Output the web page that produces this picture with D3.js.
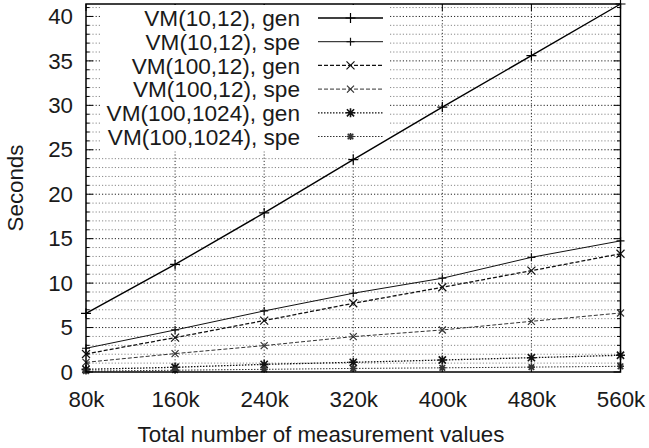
<!DOCTYPE html>
<html><head><meta charset="utf-8">
<script src="https://cdn.jsdelivr.net/npm/d3@7"></script>
<style>
body{margin:0;background:#fff;}
text{font-family:"Liberation Sans",Arial,sans-serif;fill:#1a1a1a;}
</style></head>
<body><svg id="c" width="649" height="448"></svg>
<script>
const xValues = [80, 160, 240, 320, 400, 480, 560];
const xTickLabels = ["80k","160k","240k","320k","400k","480k","560k"];
const yMajorTicks = [0,5,10,15,20,25,30,35,40];
const seriesNames = ["VM(10,12), gen","VM(10,12), spe","VM(100,12), gen","VM(100,12), spe","VM(100,1024), gen","VM(100,1024), spe"];
const vm10_12_gen   = [6.6, 12.1, 17.9, 23.9, 29.8, 35.6, 41.4];
const vm10_12_spe   = [2.67, 4.73, 6.87, 8.86, 10.55, 12.9, 14.75];
const vm100_12_gen  = [2.03, 3.87, 5.78, 7.73, 9.53, 11.4, 13.3];
const vm100_12_spe  = [1.09, 2.07, 2.97, 3.98, 4.73, 5.7, 6.64];
const vm100_1024_gen= [0.3, 0.53, 0.86, 1.09, 1.35, 1.61, 1.88];
const vm100_1024_spe= [0.1, 0.2, 0.3, 0.4, 0.47, 0.55, 0.64];
const seriesValues = [vm10_12_gen, vm10_12_spe, vm100_12_gen, vm100_12_spe, vm100_1024_gen, vm100_1024_spe];

const styles = [
  {stroke:"#000", width:1.4, dash:null, marker:"plus", ms:5},
  {stroke:"#111", width:1.0, dash:null, marker:"plus", ms:4},
  {stroke:"#111", width:1.3, dash:"4,2", marker:"cross", ms:4},
  {stroke:"#333", width:1.0, dash:"4,2", marker:"cross", ms:3.5},
  {stroke:"#111", width:1.3, dash:"1.5,1.5", marker:"star", ms:4.5},
  {stroke:"#333", width:1.0, dash:"1.5,1.5", marker:"star", ms:3.5}
];

const L=86, R=620.5, T=4, B=372;
const AX_FS = 22.3, LEG_FS = 22.6;
const x = d3.scaleLinear().domain([80,560]).range([L,R]);
const y = d3.scaleLinear().domain([0,41.4]).range([B,T]);
const svg = d3.select("#c");

// grid
const g = svg.append("g");
d3.range(0,42,1).forEach(v=>{
  const major = v%5===0;
  if(v===0) return;
  g.append("line").attr("x1",L).attr("x2",R).attr("y1",y(v)).attr("y2",y(v))
   .attr("stroke", major?"#222":"#888").attr("stroke-width",1)
   .attr("stroke-dasharray","1.2,2");
});
xValues.forEach((v,i)=>{
  if(i===0||i===xValues.length-1) return;
  g.append("line").attr("x1",x(v)).attr("x2",x(v)).attr("y1",T).attr("y2",B)
   .attr("stroke","#333").attr("stroke-width",1).attr("stroke-dasharray","1.2,2");
});

// ticks (inside, mirrored)
d3.range(0,42,1).forEach(v=>{
  const len = v%5===0?7:3.5;
  svg.append("line").attr("x1",L).attr("x2",L+len).attr("y1",y(v)).attr("y2",y(v)).attr("stroke","#000");
  svg.append("line").attr("x1",R).attr("x2",R-len).attr("y1",y(v)).attr("y2",y(v)).attr("stroke","#000");
});
xValues.forEach(v=>{
  svg.append("line").attr("x1",x(v)).attr("x2",x(v)).attr("y1",B).attr("y2",B-7).attr("stroke","#000");
  svg.append("line").attr("x1",x(v)).attr("x2",x(v)).attr("y1",T).attr("y2",T+7).attr("stroke","#000");
});

// axes labels
const yAxis = d3.axisLeft(y).tickValues(yMajorTicks).tickSize(0).tickPadding(13);
const ya = svg.append("g").attr("transform",`translate(${L},0)`).call(yAxis);
ya.select(".domain").remove();
ya.selectAll("text").attr("font-size",AX_FS).attr("font-family","Liberation Sans, Arial, sans-serif").attr("fill","#1a1a1a");
const xAxis = d3.axisBottom(x).tickValues(xValues).tickFormat((d,i)=>xTickLabels[i]).tickSize(0).tickPadding(19);
const xa = svg.append("g").attr("transform",`translate(0,${B})`).call(xAxis);
xa.select(".domain").remove();
xa.selectAll("text").attr("font-size",AX_FS).attr("font-family","Liberation Sans, Arial, sans-serif").attr("fill","#1a1a1a");

svg.append("text").attr("x",321).attr("y",441.5).attr("text-anchor","middle").attr("font-size",AX_FS).text("Total number of measurement values");
svg.append("text").attr("transform",`translate(23,${(T+B)/2}) rotate(-90)`).attr("text-anchor","middle").attr("font-size",AX_FS).text("Seconds");

function marker(sel, type, cx, cy, s, st){
  const p = d3.path();
  if(type==="plus"||type==="star"){ p.moveTo(cx-s,cy); p.lineTo(cx+s,cy); p.moveTo(cx,cy-s); p.lineTo(cx,cy+s); }
  if(type==="cross"||type==="star"){ const k=type==="star"?s*0.8:s; p.moveTo(cx-k,cy-k); p.lineTo(cx+k,cy+k); p.moveTo(cx-k,cy+k); p.lineTo(cx+k,cy-k); }
  sel.append("path").attr("d",p.toString()).attr("stroke",st.stroke).attr("stroke-width",type==="star"?1.6:1.2).attr("fill","none");
}

// legend
const legX1 = 318, legX2 = 383, legTextX = 300, legY0 = 18, legDy = 23.7;
svg.append("rect").attr("x",100).attr("y",T+1).attr("width",290).attr("height",legY0+5*legDy+10).attr("fill","#fff");
seriesNames.forEach((n,i)=>{
  const yy = legY0 + i*legDy;
  svg.append("text").attr("x",legTextX).attr("y",yy).attr("dy","0.36em").attr("text-anchor","end").attr("font-size",LEG_FS).text(n);
  const st = styles[i];
  svg.append("line").attr("x1",legX1).attr("x2",legX2).attr("y1",yy).attr("y2",yy)
    .attr("stroke",st.stroke).attr("stroke-width",st.width).attr("stroke-dasharray",st.dash);
  marker(svg, st.marker, (legX1+legX2)/2, yy, st.ms, st);
});

// series
const line = d3.line().x((d,i)=>x(xValues[i])).y(d=>y(d));
seriesValues.forEach((vals,si)=>{
  const st = styles[si];
  svg.append("path").attr("d",line(vals)).attr("fill","none").attr("stroke",st.stroke)
    .attr("stroke-width",st.width).attr("stroke-dasharray",st.dash);
  vals.forEach((v,i)=> marker(svg, st.marker, x(xValues[i]), y(v), st.ms, st));
});

// border
svg.append("rect").attr("x",L).attr("y",T).attr("width",R-L).attr("height",B-T).attr("fill","none").attr("stroke","#000").attr("stroke-width",1.5);
</script></body></html>
